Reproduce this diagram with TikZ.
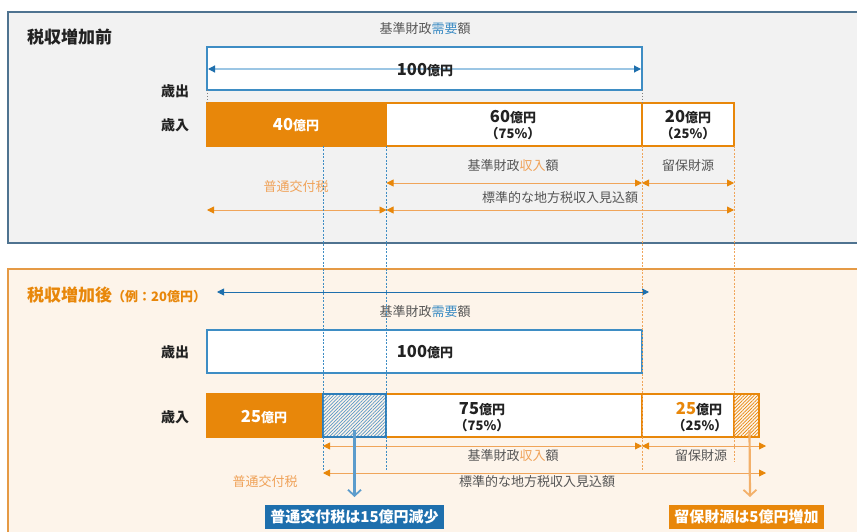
\documentclass[tikz,border=0pt]{standalone}
\usepackage{fontspec}
\setmainfont{Noto Sans CJK JP}
\usetikzlibrary{arrows.meta,patterns.meta}
\definecolor{myorange}{HTML}{E8870A}
\definecolor{myblue}{HTML}{1E6FAD}
\definecolor{boxblue}{HTML}{3E8DC4}
\definecolor{hatchblue}{HTML}{2E7DB8}
\definecolor{ltorangetxt}{HTML}{F0A35A}
\definecolor{graytxt}{HTML}{555555}
\definecolor{txtblack}{HTML}{222222}
\definecolor{panelone}{HTML}{4F7390}
\definecolor{paneltwo}{HTML}{E59A45}
\definecolor{fillone}{HTML}{F2F2F2}
\definecolor{filltwo}{HTML}{FDF4EA}
\definecolor{arrowline}{HTML}{9CC6E4}
\definecolor{orangeline}{HTML}{F0A55A}
\definecolor{downorange}{HTML}{F3B06A}
\definecolor{downblue}{HTML}{5C9CCC}
\newcommand{\numbig}[1]{{\fontsize{16.5}{17}\selectfont\bfseries #1}}
\newcommand{\unitsm}[1]{{\fontsize{13}{14}\selectfont\bfseries #1}}
\newcommand{\pctsm}[1]{{\fontsize{13}{14}\selectfont\bfseries #1}}
\tikzset{
  panelbox/.style={anchor=north west, line width=2pt, inner sep=0pt, outer sep=0pt},
  expbox/.style={anchor=north west, draw=boxblue, fill=white, line width=1.5pt, inner sep=0pt, outer sep=0pt, minimum width=435pt, minimum height=43pt},
  barbox/.style={anchor=north west, draw=myorange, line width=1.3pt, inner sep=0pt, outer sep=0pt, minimum height=43pt},
  lbl/.style={inner sep=0pt, font=\fontsize{13}{14}\selectfont, text=graytxt},
  side/.style={inner sep=0pt, font=\fontsize{14}{15}\selectfont\bfseries, text=txtblack},
  dimarrow/.style={draw=orangeline, line width=0.9pt, {Triangle[length=7pt,width=7pt,color=myorange]}-{Triangle[length=7pt,width=7pt,color=myorange]}},
  bluedim/.style={draw=myblue, line width=0.9pt, {Triangle[length=7pt,width=7pt]}-{Triangle[length=7pt,width=7pt]}},
  guideblue/.style={draw=boxblue, line width=0.8pt, dash pattern=on 2pt off 1.5pt},
  guideorange/.style={draw=orangeline, line width=0.8pt, dash pattern=on 2pt off 1.5pt},
  guidegray/.style={draw=gray, line width=0.8pt, dash pattern=on 1.5pt off 1.5pt},
  hatch/.style={pattern={Lines[angle=45,distance=2.4pt,line width=0.7pt]}},
  resultbox/.style={inner sep=0pt, outer sep=0pt, minimum height=24pt, text=white, font=\fontsize{15}{16}\selectfont\bfseries}
}
\begin{document}
\begin{tikzpicture}[x=1pt,y=-1pt]
\useasboundingbox (0,0) rectangle (857,532);
\clip (0,0) rectangle (857,532);
% ---------- panels
\node[panelbox, draw=panelone, fill=fillone, minimum width=870pt, minimum height=231pt] (p1) at (8,12) {};
\node[panelbox, draw=paneltwo, fill=filltwo, minimum width=870pt, minimum height=290pt] (p2) at (8,269) {};
% ---------- top panel
\node[anchor=west, inner sep=0pt, font=\fontsize{17}{18}\selectfont\bfseries, text=txtblack] (t1) at (27,37) {税収増加前};
\node[lbl] (need1) at (425,29) {基準財政\textcolor{boxblue}{需要}額};
\node[expbox] (e1) at (207,47) {};
\coordinate (e1l) at (208,69);
\coordinate (e1r) at (641,69);
\draw[draw=arrowline, line width=1.2pt, {Triangle[length=7pt,width=7pt,color=myblue]}-{Triangle[length=7pt,width=7pt,color=myblue]}] (e1l) -- (e1r);
\node[inner sep=0pt, text=txtblack] (e1t) at (425,70) {\numbig{100}\unitsm{億円}};
\node[side] (out1) at (175,91) {歳出};
\node[side] (in1) at (175,125) {歳入};
\node[barbox, fill=myorange, minimum width=179pt] (r1a) at (207,103) {};
\node[barbox, fill=white, minimum width=256pt] (r1b) at (386,103) {};
\node[barbox, fill=white, minimum width=92pt] (r1c) at (642,103) {};
\node[inner sep=0pt, text=white] (r1at) at (296,125) {\numbig{40}\unitsm{億円}};
\node[inner sep=0pt, text=txtblack] (r1bt) at (513,117) {\numbig{60}\unitsm{億円}};
\node[inner sep=0pt, text=txtblack] (r1bp) at (513,134) {\pctsm{（75\%）}};
\node[inner sep=0pt, text=txtblack] (r1ct) at (688,117) {\numbig{20}\unitsm{億円}};
\node[inner sep=0pt, text=txtblack] (r1cp) at (688,134) {\pctsm{（25\%）}};
\draw[guidegray] (e1.south west) -- (r1a.north west);
\draw[guidegray] (e1.south east) -- (r1c.north west);
% top dimension arrows
\coordinate (a1) at (386.5,183);
\coordinate (a2) at (642,183);
\coordinate (a3) at (734,183);
\coordinate (b1) at (207,210);
\coordinate (b2) at (386.5,210);
\coordinate (b3) at (734,210);
\draw[dimarrow] (a1) -- (a2);
\draw[dimarrow] (a2) -- (a3);
\draw[dimarrow] (b1) -- (b2);
\draw[dimarrow] (b2) -- (b3);
\node[lbl] (inc1) at (513,166) {基準財政\textcolor{ltorangetxt}{収入}額};
\node[lbl] (res1) at (688,166) {留保財源};
\node[lbl, text=ltorangetxt] (grant1) at (296,187) {普通交付税};
\node[lbl] (std1) at (560,198) {標準的な地方税収入見込額};
% ---------- bottom panel
\node[anchor=west, inner sep=0pt, text=myorange] (t2) at (27,295) {{\fontsize{17}{18}\selectfont\bfseries 税収増加後}{\fontsize{13}{14}\selectfont\bfseries （例：20億円）}};
\coordinate (n2l) at (217,292);
\coordinate (n2r) at (649,292);
\draw[bluedim] (n2l) -- (n2r);
\node[lbl] (need2) at (425,312) {基準財政\textcolor{boxblue}{需要}額};
\node[expbox] (e2) at (207,330) {};
\node[inner sep=0pt, text=txtblack] (e2t) at (425,352) {\numbig{100}\unitsm{億円}};
\node[side] (out2) at (175,352) {歳出};
\node[side] (in2) at (175,417) {歳入};
\node[barbox, fill=myorange, minimum width=116pt] (r2a) at (207,394) {};
\node[barbox, fill=white, minimum width=256pt] (r2c) at (386,394) {};
\node[barbox, fill=white, minimum width=92pt] (r2d) at (642,394) {};
\node[barbox, draw=hatchblue, hatch, pattern color=hatchblue!80, minimum width=63pt] (r2b) at (323,394) {};
\node[barbox, hatch, pattern color=myorange, minimum width=25pt] (r2e) at (734,394) {};
\node[inner sep=0pt, text=white] (r2at) at (264,417) {\numbig{25}\unitsm{億円}};
\node[inner sep=0pt, text=txtblack] (r2ct) at (482,409) {\numbig{75}\unitsm{億円}};
\node[inner sep=0pt, text=txtblack] (r2cp) at (482,426) {\pctsm{（75\%）}};
\node[inner sep=0pt, text=txtblack] (r2dt) at (699,409) {\numbig{\textcolor{myorange}{25}}\unitsm{億円}};
\node[inner sep=0pt, text=txtblack] (r2dp) at (700,426) {\pctsm{（25\%）}};
% vertical guides
\coordinate (g1t) at (323,146);
\coordinate (g1b) at (323,471);
\coordinate (g2t) at (386.5,146);
\coordinate (g2b) at (386.5,471);
\coordinate (g3t) at (642,146);
\coordinate (g3b) at (642,471);
\coordinate (g4t) at (734,146);
\coordinate (g4b) at (734,462);
\draw[guideblue] (g1t) -- (g1b);
\draw[guideblue] (g2t) -- (g2b);
\draw[guideorange] (g3t) -- (g3b);
\draw[guideorange] (g4t) -- (g4b);
% bottom dimension arrows
\coordinate (c1) at (323,446);
\coordinate (c2) at (642,446);
\coordinate (c3) at (766,446);
\coordinate (d1) at (323,473);
\coordinate (d2) at (766,473);
\draw[dimarrow] (c1) -- (c2);
\draw[dimarrow] (c2) -- (c3);
\draw[dimarrow] (d1) -- (d2);
\node[lbl] (inc2) at (513,456) {基準財政\textcolor{ltorangetxt}{収入}額};
\node[lbl] (res2) at (701,456) {留保財源};
\node[lbl, text=ltorangetxt] (grant2) at (265,482) {普通交付税};
\node[lbl] (std2) at (537,482) {標準的な地方税収入見込額};
% result boxes
\node[resultbox, fill=myblue, minimum width=179pt] (nb) at (354.5,517) {普通交付税は15億円減少};
\node[resultbox, fill=myorange, minimum width=155pt] (ob) at (746.5,517) {留保財源は5億円増加};
\draw[draw=downblue, line width=2.2pt, -{Straight Barb[length=6pt,width=13pt,line width=1.8pt]}] ([yshift=7pt]r2b.south) -- ([yshift=8pt]nb.north);
\draw[draw=downorange, line width=2.2pt, -{Straight Barb[length=6pt,width=13pt,line width=1.8pt]}] ([yshift=7pt,xshift=3pt]r2e.south) -- ([yshift=8pt,xshift=3.5pt]ob.north);
\end{tikzpicture}
\end{document}
